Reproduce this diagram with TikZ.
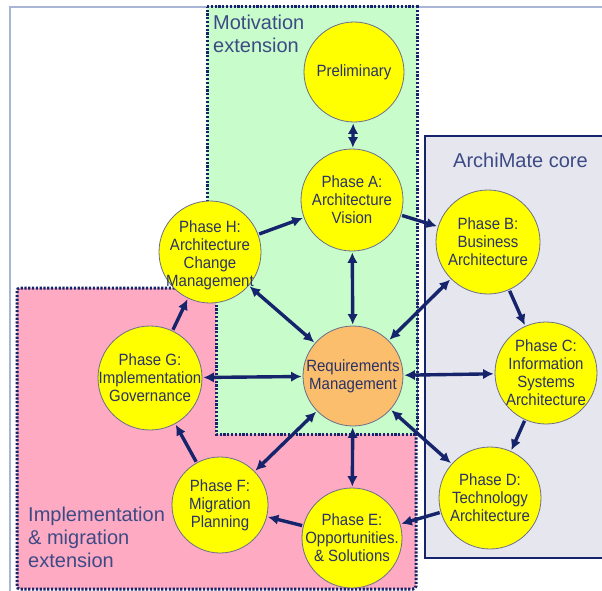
\documentclass[tikz,border=0pt]{standalone}
\usepackage{fontspec}
\setmainfont{Liberation Sans}
\newfontfamily\phasefont[FakeStretch=0.92]{Liberation Sans}
\usetikzlibrary{arrows.meta}

\definecolor{navy}{HTML}{15246B}
\definecolor{framecol}{HTML}{A9B5D6}
\definecolor{mint}{HTML}{C8FCCA}
\definecolor{rose}{HTML}{FDAAC2}
\definecolor{coregray}{HTML}{E6E6EE}
\definecolor{phaseyellow}{HTML}{FFFF00}
\definecolor{reqorange}{HTML}{FBBE6C}
\definecolor{rimcol}{HTML}{6B6E8C}
\definecolor{inkcol}{HTML}{2A3266}
\definecolor{labelcol}{HTML}{3D4A86}

\begin{document}
\begin{tikzpicture}[x=1pt,y=-1pt,
  phase/.style={circle, draw=rimcol, line width=0.8pt, fill=phaseyellow,
                minimum size=102pt, inner sep=0pt},
  ptext/.style={font=\phasefont\fontsize{16.3}{18}\selectfont, text=inkcol,
                align=center, inner sep=0pt},
  region/.style={font=\fontsize{20}{23}\selectfont, text=labelcol,
                 align=left, anchor=base west, inner sep=0pt},
  dotborder/.style={draw=navy, line width=3pt, dash pattern=on 2.2pt off 1.6pt},
  flow/.style={draw=navy, line width=3.4pt, shorten >=1pt, shorten <=1pt,
               arrows={-Latex[length=10.5pt,width=10.5pt]}},
  both/.style={flow, arrows={Latex[length=10.5pt,width=10.5pt]-Latex[length=10.5pt,width=10.5pt]}}
]
\path[use as bounding box] (0,0) rectangle (602,591);
\clip (0,0) rectangle (602,591);
\fill[white] (0,0) rectangle (602,591);

% outer frame
\draw[framecol, line width=1.2pt] (10,600) -- (10,7) -- (610,7);

% ArchiMate core area
\draw[fill=coregray, draw=navy, line width=2.5pt] (425,136) rectangle (620,558);
\node[region] (corelbl) at (453,167) {ArchiMate core};

% implementation & migration extension area (label anchored at its last baseline)
\path[fill=rose, dotborder, rounded corners=3pt] (17,288) rectangle (416,589);
\node[region] (impllbl) at (28,567) {Implementation\\\& migration\\extension};

% motivation extension area
\path[fill=mint, dotborder] (207,7) -- (417,7) -- (417,434) -- (216,434)
   -- (216,255) -- (207,255) -- cycle;
\node[region] (motlbl) at (213,53) {Motivation\\extension};

% phases
\node[phase, minimum size=100pt] (prelim) at (354,72) {};
\node[phase] (A) at (352,200) {};
\node[phase, minimum size=104pt] (B) at (488,242) {};
\node[phase] (C) at (546,373) {};
\node[phase] (D) at (490,498) {};
\node[phase, minimum size=100pt] (E) at (352,538) {};
\node[phase, minimum size=96pt] (F) at (220,505) {};
\node[phase, minimum size=104pt] (G) at (150,378) {};
\node[phase] (H) at (210,252) {};
\node[phase, fill=reqorange, minimum size=100pt] (R) at (353,376) {};

\node[ptext] at (prelim) {Preliminary};
\node[ptext] at (A) {Phase A:\\Architecture\\Vision};
\node[ptext] at (B) {Phase B:\\Business\\Architecture};
\node[ptext] at (C) {Phase C:\\Information\\Systems\\Architecture};
\node[ptext] at (D) {Phase D:\\Technology\\Architecture};
\node[ptext] at (E) {Phase E:\\Opportunities.\\\& Solutions};
\node[ptext] at (F) {Phase F:\\Migration\\Planning};
\node[ptext] at (G) {Phase G:\\Implementation\\Governance};
\node[ptext] at ([yshift=-3pt]H) {Phase H:\\Architecture\\Change\\Management};
\node[ptext] at (R) {Requirements\\Management};

% cycle
\draw[both] (prelim) -- (A);
\draw[flow] (A) -- (B);
\draw[flow] (B) -- (C);
\draw[flow] (C) -- (D);
\draw[flow] (D) -- (E);
\draw[flow] (E) -- (F);
\draw[flow] (F) -- (G);
\draw[flow] (G) -- (H);
\draw[flow] (H) -- (A);

% requirements links
\draw[both] (R) -- (A);
\draw[both] (R) -- (B);
\draw[both] (R) -- (C);
\draw[both] (R) -- (D);
\draw[both] (R) -- (E);
\draw[both] (R) -- (F);
\draw[both] (R) -- (G);
\draw[both] (R) -- (H);
\end{tikzpicture}
\end{document}
